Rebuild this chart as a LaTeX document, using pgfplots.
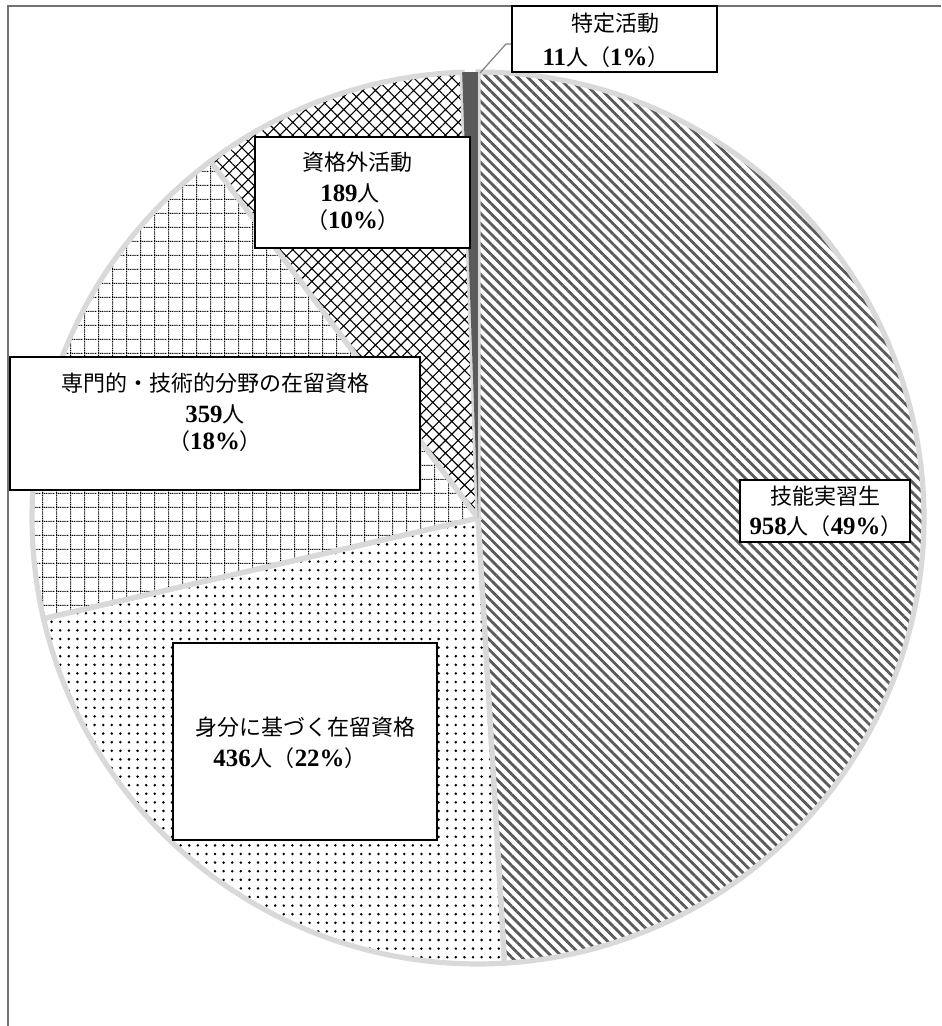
\documentclass[border=0pt]{standalone}
\usepackage{pgfplots}
\pgfplotsset{compat=1.18}
\usepackage{pgfplotstable}
\usetikzlibrary{patterns,patterns.meta}
\usepackage{fontspec}
\setmainfont{Noto Sans CJK JP}
\newfontfamily\numf{Liberation Serif}[Scale=1.13]
\definecolor{rim}{HTML}{D9D9D9}
\definecolor{lineg}{HTML}{5A5A5A}
\definecolor{frame}{HTML}{767171}

\pgfdeclarepattern{
  name=dotgrid, type=uncolored,
  bottom left={\pgfpoint{0pt}{0pt}},
  top right={\pgfpoint{7pt}{7pt}},
  tile size={\pgfpoint{7pt}{7pt}},
  code={
    \foreach \i in {0,1,...,6}{
      \pgfpathrectangle{\pgfpoint{\i pt}{0pt}}{\pgfpoint{0.6pt}{0.6pt}}
      \pgfpathrectangle{\pgfpoint{0pt}{\i pt+0.5pt}}{\pgfpoint{0.6pt}{0.6pt}}
    }
    \pgfusepath{fill}
  }
}
\tikzset{lbl/.style={font=\fontsize{11pt}{13pt}\selectfont, inner sep=0pt}}

\pgfplotstableread{
value
958
436
359
189
11
}\piedata

\begin{document}
\begin{tikzpicture}
\pgfplotstablegetelem{0}{value}\of\piedata \let\vA\pgfplotsretval
\pgfplotstablegetelem{1}{value}\of\piedata \let\vB\pgfplotsretval
\pgfplotstablegetelem{2}{value}\of\piedata \let\vC\pgfplotsretval
\pgfplotstablegetelem{3}{value}\of\piedata \let\vD\pgfplotsretval
\pgfplotstablegetelem{4}{value}\of\piedata \let\vE\pgfplotsretval
\pgfmathsetmacro{\tot}{\vA+\vB+\vC+\vD+\vE}
\pgfmathsetmacro{\aA}{90-(\vA/\tot)*360}
\pgfmathsetmacro{\aB}{\aA-(\vB/\tot)*360}
\pgfmathsetmacro{\aC}{\aB-(\vC/\tot)*360}
\pgfmathsetmacro{\aD}{\aC-(\vD/\tot)*360}
\pgfmathsetmacro{\aE}{\aD-(\vE/\tot)*360}
\begin{axis}[
  width=470.5pt, height=513pt, scale only axis,
  xmin=0, xmax=941, ymin=0, ymax=1026,
  hide axis, clip=false,
]
% frame
\draw[frame, line width=1.2pt] (axis cs:8,0) -- (axis cs:8,1020) -- (axis cs:941,1020);
% wedges (pie center px (478,518), r=446)
\addplot[draw=rim, line width=2.6pt, pattern={Lines[angle=-45, distance=3.6pt, line width=1.4pt]}, pattern color=lineg, domain=\aA:90, samples=120]
  ({478+446*cos(x)}, {508+446*sin(x)}) -- (axis cs:478,508) -- cycle;
\addplot[draw=rim, line width=2.6pt, pattern={Dots[distance=4.3pt, radius=0.7pt]}, pattern color=black, domain=\aB:\aA, samples=80]
  ({478+446*cos(x)}, {508+446*sin(x)}) -- (axis cs:478,508) -- cycle;
\addplot[draw=rim, line width=2.6pt, pattern=dotgrid, pattern color=black, domain=\aC:\aB, samples=80]
  ({478+446*cos(x)}, {508+446*sin(x)}) -- (axis cs:478,508) -- cycle;
\addplot[draw=rim, line width=2.6pt, pattern={Hatch[angle=45, distance=4.5pt, line width=0.55pt]}, pattern color=black, domain=\aD:\aC, samples=60]
  ({478+446*cos(x)}, {508+446*sin(x)}) -- (axis cs:478,508) -- cycle;
\addplot[draw=none, fill=lineg, domain=\aE:\aD, samples=10]
  ({478+446*cos(x)}, {508+446*sin(x)}) -- (axis cs:478,508) -- cycle;
% leader line
\draw[gray, line width=0.6pt] (axis cs:512,982) -- (axis cs:506,982) -- (axis cs:480,953);
% label boxes
\draw[fill=white, line width=1pt] (axis cs:512,954) rectangle (axis cs:717,1020);
\node[lbl] at (axis cs:615,1003) {特定活動};
\node[lbl] at (axis cs:606,969) {{\numf\bfseries 11}人（{\numf\bfseries 1\%}）};
\draw[fill=white, line width=1pt] (axis cs:255,778) rectangle (axis cs:470,889);
\node[lbl] at (axis cs:357,864) {資格外活動};
\node[lbl] at (axis cs:350,833) {{\numf\bfseries 189}人};
\node[lbl] at (axis cs:353,806) {（{\numf\bfseries 10\%}）};
\draw[fill=white, line width=1pt] (axis cs:10,536) rectangle (axis cs:420,669);
\node[lbl] at (axis cs:215,643) {専門的・技術的分野の在留資格};
\node[lbl] at (axis cs:215,612) {{\numf\bfseries 359}人};
\node[lbl] at (axis cs:215,585) {（{\numf\bfseries 18\%}）};
\draw[fill=white, line width=1pt] (axis cs:173,186) rectangle (axis cs:437,383);
\node[lbl] at (axis cs:305,299) {身分に基づく在留資格};
\node[lbl] at (axis cs:290,268) {{\numf\bfseries 436}人（{\numf\bfseries 22\%}）};
\draw[fill=white, line width=1pt] (axis cs:740,484) rectangle (axis cs:910,546);
\node[lbl] at (axis cs:825,530) {技能実習生};
\node[lbl] at (axis cs:826,500) {{\numf\bfseries 958}人（{\numf\bfseries 49\%}）};
\end{axis}
\pgfresetboundingbox
\useasboundingbox (current axis.south west) rectangle (current axis.north east);
\end{tikzpicture}
\end{document}
